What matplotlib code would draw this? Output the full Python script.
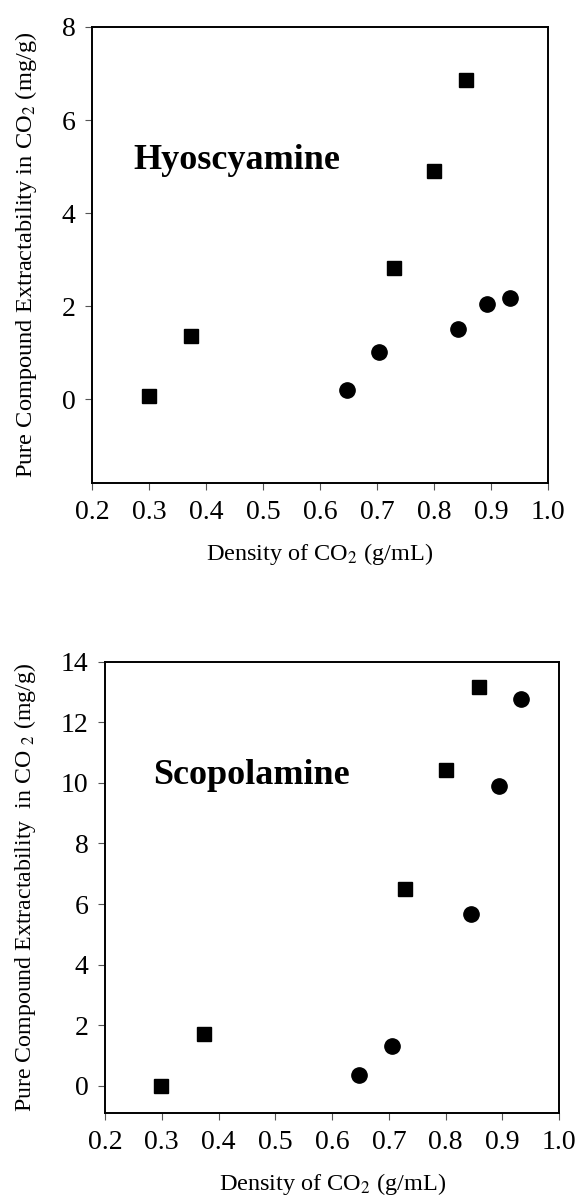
import matplotlib
matplotlib.use("Agg")
import matplotlib.pyplot as plt

plt.rcParams['font.family'] = ['Liberation Serif', 'DejaVu Serif']
plt.rcParams['mathtext.fontset'] = 'stix'

# Hyoscyamine (top panel)
hyo_sq_x = [0.300, 0.374, 0.729, 0.800, 0.856]
hyo_sq_y = [0.06, 1.35, 2.81, 4.90, 6.86]
hyo_ci_x = [0.647, 0.703, 0.843, 0.893, 0.933]
hyo_ci_y = [0.20, 1.01, 1.51, 2.05, 2.17]

# Scopolamine (bottom panel)
sco_sq_x = [0.299, 0.375, 0.729, 0.801, 0.858]
sco_sq_y = [0.00, 1.70, 6.50, 10.43, 13.16]
sco_ci_x = [0.648, 0.705, 0.844, 0.894, 0.933]
sco_ci_y = [0.35, 1.32, 5.68, 9.90, 12.76]

x_ticks = [0.2, 0.3, 0.4, 0.5, 0.6, 0.7, 0.8, 0.9, 1.0]

fig = plt.figure(figsize=(5.75, 12), dpi=100)
ax1 = fig.add_axes([0.160, 0.5975, 0.793, 0.38])
ax2 = fig.add_axes([0.1826, 0.0725, 0.790, 0.376])

def style(ax, yticks, ylim, ylabel, ysize):
    ax.set_xlim(0.2, 1.0)
    ax.set_ylim(*ylim)
    ax.set_xticks(x_ticks)
    ax.set_xticklabels([f"{t:.1f}" for t in x_ticks])
    ax.set_yticks(yticks)
    ax.tick_params(direction='out', length=5, width=0.8, labelsize=20, pad=7, color='#555555')
    for s in ax.spines.values():
        s.set_linewidth(1.4)
    ax.set_xlabel("Density of CO$_2$ (g/mL)", fontsize=17.5, labelpad=12)
    ax.set_ylabel(ylabel, fontsize=ysize, labelpad=16)

ax1.plot(hyo_sq_x, hyo_sq_y, 's', color='k', ms=9.5, ls='none')
ax1.plot(hyo_ci_x, hyo_ci_y, 'o', color='k', ms=11, ls='none')
style(ax1, [0, 2, 4, 6, 8], (-1.8, 8), "Pure Compound Extractability in CO$_2$ (mg/g)", 17.6)
ax1.text(0.272, 5.14, "Hyoscyamine", fontsize=26, fontweight='bold', va='center', ha='left')

ax2.plot(sco_sq_x, sco_sq_y, 's', color='k', ms=9.5, ls='none')
ax2.plot(sco_ci_x, sco_ci_y, 'o', color='k', ms=11, ls='none')
style(ax2, [0, 2, 4, 6, 8, 10, 12, 14], (-0.9, 14), "Pure Compound Extractability  in CO $_2$ (mg/g)", 17.2)
ax2.text(0.284, 10.26, "Scopolamine", fontsize=26, fontweight='bold', va='center', ha='left')

fig.savefig("out.png", dpi=100)
